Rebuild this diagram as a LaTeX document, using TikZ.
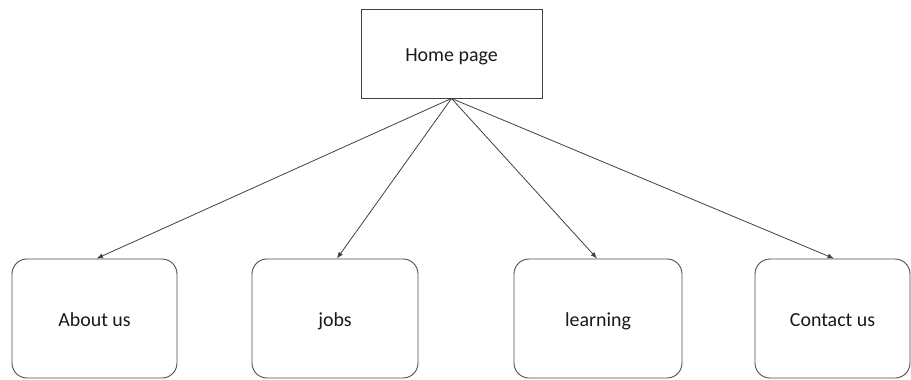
\documentclass[tikz,border=0pt]{standalone}
\usepackage{fontspec}
\setmainfont{Carlito}
\usetikzlibrary{arrows.meta}
\begin{document}
\begin{tikzpicture}[x=1bp,y=-1bp,
  every node/.style={font=\fontsize{20}{24}\selectfont, text=black!90, text height=15.5bp, text depth=0bp},
  topbox/.style={draw=black!75, line width=0.9bp, minimum width=181bp, minimum height=89bp, inner sep=0pt},
  pagebox/.style={draw=black!70, line width=0.9bp, rounded corners=15bp, minimum height=119bp, inner sep=0pt},
  link/.style={draw=black!75, line width=0.8bp, -{Latex[length=6.5bp,width=5bp]}}]
  \useasboundingbox (0,0) rectangle (911,379);
  \node[topbox] (home) at (451.5,53.5) {Home page};
  \node[pagebox, minimum width=165bp] (about) at (94.5,318.5) {About us};
  \node[pagebox, minimum width=166bp] (jobs) at (335,318.5) {jobs};
  \node[pagebox, minimum width=168bp] (learn) at (598,318.5) {learning};
  \node[pagebox, minimum width=155bp] (contact) at (832.5,318.5) {Contact us};
  \draw[link] (home.south) -- ([xshift=2bp]about.north);
  \draw[link] (home.south) -- ([xshift=2bp]jobs.north);
  \draw[link] (home.south) -- ([xshift=-1bp]learn.north);
  \draw[link] (home.south) -- ([xshift=1.5bp]contact.north);
\end{tikzpicture}
\end{document}
